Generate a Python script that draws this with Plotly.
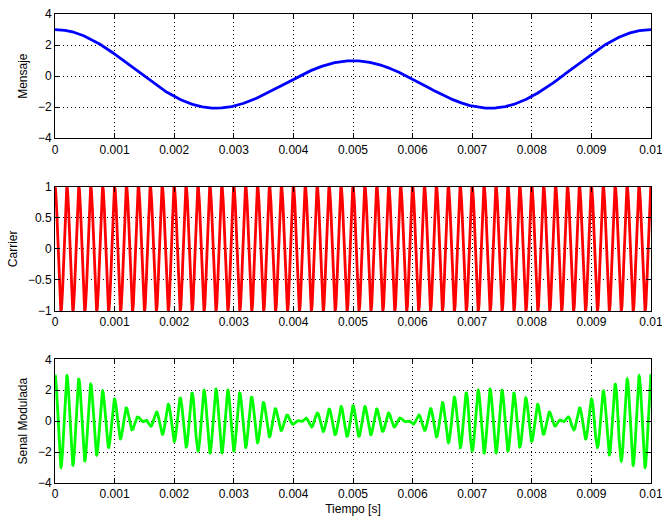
import numpy as np
import plotly.graph_objects as go

# --- data ---
t_start, t_end, n_samples = 0.0, 0.01, 4001
msg_amplitudes = [1.0, 2.0]          # message components
msg_freqs_hz = [100.0, 200.0]
carrier_amp = 1.0
carrier_freq_hz = 5000.0

x_tick_vals = [0, 0.001, 0.002, 0.003, 0.004, 0.005, 0.006, 0.007, 0.008, 0.009, 0.01]
x_tick_text = ["0", "0.001", "0.002", "0.003", "0.004", "0.005", "0.006", "0.007", "0.008", "0.009", "0.01"]
y1_ticks = [-4, -2, 0, 2, 4]
y2_ticks = [-1, -0.5, 0, 0.5, 1]
y3_ticks = [-4, -2, 0, 2, 4]
y_titles = ["Mensaje", "Carrier", "Senal Modulada"]
x_title = "Tiempo [s]"

t = np.linspace(t_start, t_end, n_samples)
mensaje = sum(a * np.cos(2 * np.pi * f * t) for a, f in zip(msg_amplitudes, msg_freqs_hz))
carrier = carrier_amp * np.cos(2 * np.pi * carrier_freq_hz * t)
modulada = mensaje * carrier

fig = go.Figure()
fig.add_trace(go.Scatter(x=t, y=mensaje, mode="lines", line=dict(color="#0000ff", width=2.8),
                         xaxis="x", yaxis="y", showlegend=False))
fig.add_trace(go.Scatter(x=t, y=carrier, mode="lines", line=dict(color="#ff0000", width=2.8),
                         xaxis="x2", yaxis="y2", showlegend=False))
fig.add_trace(go.Scatter(x=t, y=modulada, mode="lines", line=dict(color="#00ff00", width=2.8),
                         xaxis="x3", yaxis="y3", showlegend=False))

font = dict(family="Liberation Sans, Arial, Helvetica, sans-serif", size=12, color="black")

common_axis = dict(showline=True, linecolor="black", linewidth=1, mirror="ticks",
                   ticks="inside", ticklen=5, tickcolor="black", tickwidth=1,
                   showgrid=True, gridcolor="black", griddash="1px,3px", gridwidth=1,
                   zeroline=False, tickfont=font, automargin=False,
                   ticklabeloverflow="allow")

def xax(anchor, title=None):
    d = dict(common_axis, range=[t_start, t_end], tickvals=x_tick_vals, ticktext=x_tick_text,
             anchor=anchor, domain=[0, 1])
    if title:
        d["title"] = dict(text=title, font=font, standoff=4)
    return d

def yax(anchor, dom, ticks, rng, title):
    return dict(common_axis, range=rng, tickvals=ticks, anchor=anchor, domain=dom,
                title=dict(text=title, font=font, standoff=7))

fig.update_layout(
    width=662, height=517,
    margin=dict(l=55, r=11, t=14, b=34),
    paper_bgcolor="white", plot_bgcolor="white",
    font=font,
    xaxis=xax("y"),
    yaxis=yax("x", [0.735, 1.0], y1_ticks, [-4, 4], y_titles[0]),
    xaxis2=xax("y2"),
    yaxis2=yax("x2", [0.3667, 0.6318], y2_ticks, [-1, 1], y_titles[1]),
    xaxis3=xax("y3", x_title),
    yaxis3=yax("x3", [0.0, 0.2637], y3_ticks, [-4, 4], y_titles[2]),
)

fig.write_html("out.html")
